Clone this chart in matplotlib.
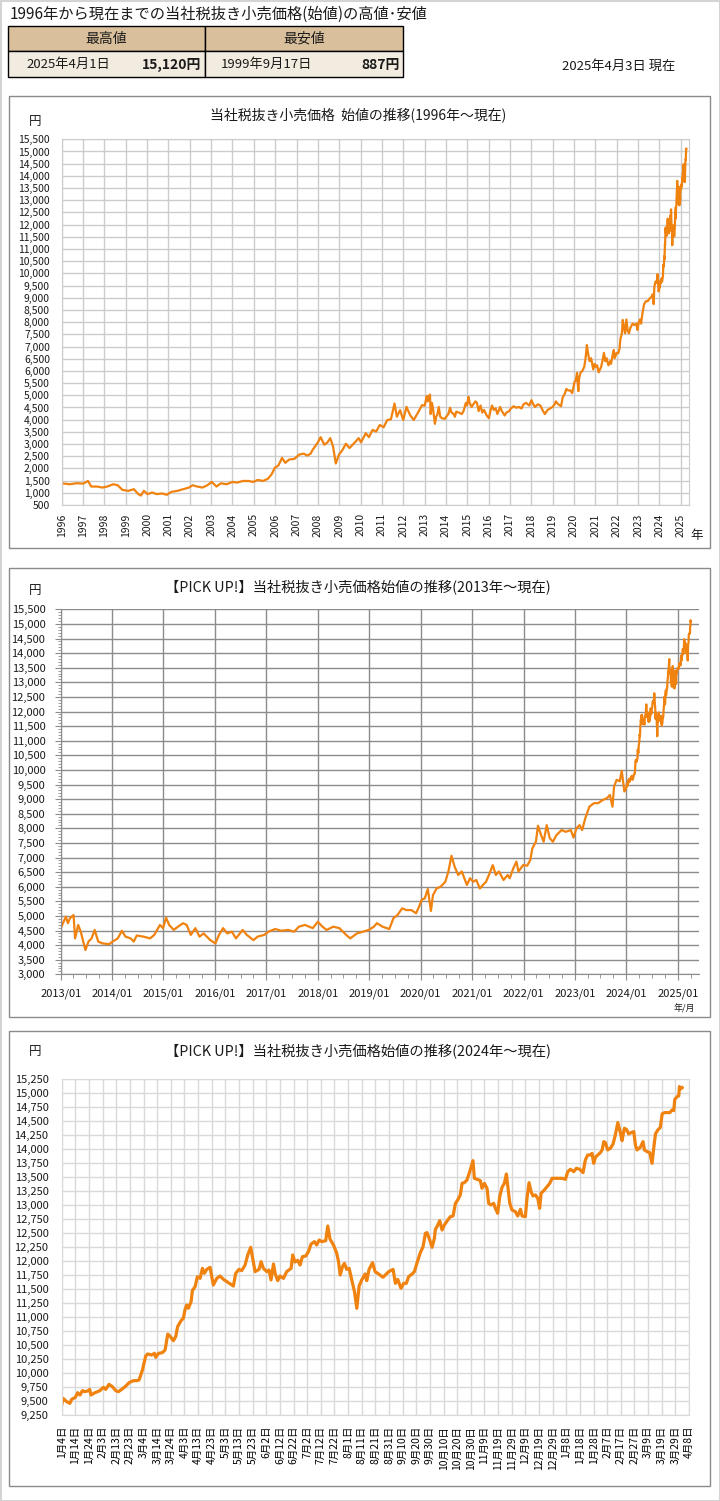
import pandas as pd
import matplotlib
matplotlib.use('Agg')
import matplotlib.pyplot as plt
import matplotlib.dates as mdates
from matplotlib.ticker import MultipleLocator
from matplotlib.patches import Rectangle

plt.rcParams['font.family'] = ['Noto Sans CJK JP', 'DejaVu Sans']

W, H = 720, 1501
ORANGE = '#F0820F'
TXT = '#1a1a1a'

# 価格データ
# 1996〜2012: 年（小数）
yrs_early = [1996.00, 1996.37, 1996.69, 1997.01, 1997.23, 1997.38, 1997.66, 1997.91, 1998.13, 1998.41,
             1998.62, 1998.84, 1999.12, 1999.38, 1999.59, 1999.71, 1999.85, 2000.02, 2000.24, 2000.45,
             2000.71, 2000.92, 2001.14, 2001.42, 2001.70, 2001.96, 2002.13, 2002.34, 2002.60, 2002.82,
             2003.03, 2003.25, 2003.46, 2003.72, 2004.00, 2004.22, 2004.49, 2004.75, 2004.97, 2005.18,
             2005.44, 2005.66, 2005.83, 2005.98, 2006.15, 2006.32, 2006.47, 2006.65, 2006.90, 2007.12,
             2007.33, 2007.51, 2007.66, 2007.76, 2007.98, 2008.13, 2008.30, 2008.45, 2008.58, 2008.71,
             2008.84, 2008.99, 2009.16, 2009.31, 2009.48, 2009.70, 2009.91, 2010.02, 2010.24, 2010.39,
             2010.56, 2010.73, 2010.90, 2011.08, 2011.25, 2011.42, 2011.59, 2011.70, 2011.85, 2012.00,
             2012.15, 2012.32, 2012.49, 2012.71, 2012.88]
px_early = [1392, 1351, 1392, 1378, 1486, 1257, 1257, 1216, 1257, 1351,
            1311, 1122, 1081, 1149, 946, 887, 1081, 946, 1013, 946,
            973, 919, 1040, 1081, 1149, 1216, 1311, 1257, 1216, 1311,
            1446, 1257, 1392, 1351, 1446, 1419, 1486, 1486, 1446, 1527,
            1486, 1581, 1756, 2027, 2121, 2432, 2229, 2364, 2391, 2567,
            2608, 2527, 2608, 2770, 3040, 3283, 2972, 3067, 3243, 2905,
            2202, 2567, 2770, 3013, 2837, 3040, 3243, 3067, 3445, 3283,
            3580, 3513, 3783, 3688, 3986, 4013, 4661, 4121, 4391, 3986,
            4526, 4188, 3986, 4323, 4594]

# 2013〜2023
yrs_mid = [2013.00, 2013.10, 2013.14, 2013.18, 2013.25, 2013.28, 2013.34, 2013.39, 2013.48, 2013.54,
           2013.60, 2013.66, 2013.73, 2013.81, 2013.94, 2014.01, 2014.11, 2014.19, 2014.26, 2014.36,
           2014.42, 2014.48, 2014.61, 2014.74, 2014.82, 2014.93, 2014.99, 2015.05, 2015.11, 2015.20,
           2015.28, 2015.38, 2015.45, 2015.53, 2015.62, 2015.70, 2015.78, 2015.91, 2016.01, 2016.08,
           2016.16, 2016.24, 2016.33, 2016.41, 2016.54, 2016.62, 2016.75, 2016.83, 2016.96, 2017.04,
           2017.17, 2017.29, 2017.42, 2017.54, 2017.63, 2017.75, 2017.90, 2018.00, 2018.09, 2018.17,
           2018.30, 2018.42, 2018.55, 2018.63, 2018.76, 2018.88, 2018.99, 2019.09, 2019.15, 2019.26,
           2019.39, 2019.47, 2019.55, 2019.64, 2019.72, 2019.82, 2019.91, 2019.97, 2020.02, 2020.08,
           2020.14, 2020.20, 2020.24, 2020.31, 2020.39, 2020.48, 2020.54, 2020.60, 2020.66, 2020.73,
           2020.80, 2020.85, 2020.90, 2020.96, 2021.02, 2021.08, 2021.15, 2021.21, 2021.27, 2021.34,
           2021.40, 2021.46, 2021.52, 2021.61, 2021.69, 2021.73, 2021.80, 2021.86, 2021.90, 2021.99,
           2022.07, 2022.13, 2022.17, 2022.24, 2022.28, 2022.34, 2022.39, 2022.45, 2022.51, 2022.57,
           2022.64, 2022.74, 2022.82, 2022.92, 2022.97, 2023.03, 2023.09, 2023.14, 2023.20, 2023.28,
           2023.37, 2023.45, 2023.54, 2023.62, 2023.68, 2023.73, 2023.76, 2023.81, 2023.87, 2023.91,
           2023.96]
px_mid = [4575, 4975, 4750, 4920, 5030, 4230, 4690, 4460, 3830, 4120,
          4230, 4520, 4120, 4060, 4030, 4120, 4230, 4490, 4290, 4230,
          4120, 4330, 4290, 4230, 4350, 4690, 4580, 4940, 4690, 4520,
          4630, 4750, 4690, 4350, 4580, 4290, 4400, 4170, 4060, 4350,
          4580, 4400, 4460, 4230, 4520, 4350, 4170, 4290, 4350, 4460,
          4550, 4490, 4520, 4460, 4630, 4690, 4580, 4800, 4630, 4520,
          4630, 4580, 4350, 4230, 4400, 4460, 4520, 4630, 4750, 4630,
          4550, 4920, 5030, 5260, 5200, 5200, 5090, 5320, 5550, 5600,
          5920, 5170, 5710, 5940, 6000, 6170, 6520, 7060, 6690, 6400,
          6520, 6290, 6060, 6290, 6170, 6230, 5940, 6060, 6170, 6460,
          6740, 6400, 6520, 6230, 6400, 6290, 6630, 6860, 6520, 6740,
          6720, 6910, 7310, 7540, 8090, 7770, 7540, 8110, 7660, 7540,
          7770, 7940, 7880, 7940, 7680, 8000, 8110, 7940, 8340, 8740,
          8860, 8860, 8970, 9030, 9140, 8740, 9430, 9660, 9610, 9970,
          9260]

# 2024/1/4 以降: 経過日数
days_2024 = [0, 1, 3.7, 6, 7.3, 10, 11.7, 13.4, 15.2, 17,
             19.6, 20.5, 21.5, 24.4, 28, 30.6, 32.3, 34.7, 37.2, 39.6,
             41.6, 44, 46.5, 49.4, 52.6, 55, 56.7, 59.2, 61.6, 63,
             66, 68, 69, 71, 73.8, 75.8, 77.8, 79.7, 81.9, 83.6,
             85, 87.5, 89.2, 90.5, 91.7, 92.9, 94.9, 95.8, 97.8, 99.5,
             101.5, 103.2, 104.6, 106.4, 108.8, 111.2, 113.7, 116.1, 118.6, 122.2,
             125.9, 127.6, 130, 132, 134.5, 136.4, 138.6, 140.6, 141.8, 144.7,
             146.2, 147.9, 150.4, 152, 153.5, 155.3, 156.5, 158.4, 160.1, 162.6,
             165, 168.2, 169.4, 171.1, 173.1, 174.8, 176.5, 179, 180.9, 182.9,
             185.3, 187, 188.8, 190.7, 193.6, 195.1, 196.8, 199.3, 201.7, 203,
             204.2, 205.9, 207.3, 209, 210.8, 212.7, 214.7, 216.4, 218.1, 220,
             222.5, 223.7, 225.4, 227.9, 229.8,
             232.4, 235.6, 237.3, 239.8, 243, 244.7, 246.4, 248.8, 250.8, 252.7,
             254.4, 256.9, 258.6, 260.6, 263, 265, 266.7, 267.9, 269.9, 271.6,
             273.3, 274, 275.2, 277.2, 278.9, 280.6, 283.1, 285, 287, 288.7,
             290.4, 292.3, 293.6, 295.3, 297.2, 299.2, 301.6, 302.6, 304.6, 307,
             308.2, 310, 311.9, 313.1, 314.8, 316.8, 318, 319.7, 321.2, 322.9,
             324.6, 326.1, 327.1, 328.5, 330.2, 332.7, 334.4, 336.4, 337.6, 340,
             341.2, 342.7, 344.2, 345.6, 347.4, 349.1, 350.5, 351.5, 353.5, 355.9,
             357.9, 359.6, 363.3, 366.9, 369.4, 371.1, 373, 375.5, 377.4, 379.9,
             382.3, 384, 385.7, 387.7, 388.9, 390.1, 391.4, 393.1, 395, 396.3,
             397.5, 398.7, 400.4, 402.4, 404.3, 406, 407.8, 409.7, 410.9, 412.6,
             414.1, 415.8, 417.5, 419.5, 420.7, 421.9, 424.3, 426.3, 427.3, 429.3,
             431.2, 432.9, 434.2, 435.4, 437.1, 439, 440.3, 442, 444, 445.9,
             447.6, 448.8, 449.6, 451.3, 452.5, 453, 454, 455]
px_2024 = [9423, 9542, 9483, 9453, 9525, 9560, 9644, 9602, 9680, 9662,
           9680, 9703, 9602, 9644, 9680, 9740, 9703, 9793, 9751, 9680,
           9662, 9703, 9751, 9823, 9859, 9859, 9870, 10049, 10300, 10336,
           10318, 10348, 10276, 10348, 10360, 10407, 10693, 10646, 10574, 10646,
           10825, 10932, 10974, 11135, 11212, 11153, 11272, 11469, 11540, 11719,
           11689, 11868, 11779, 11850, 11886, 11570, 11689, 11731, 11672, 11612,
           11552, 11779, 11850, 11827, 11928, 12107, 12244, 11970, 11809, 11850,
           11988, 11868, 11809, 11839, 11660, 11946, 11779, 11648, 11731, 11689,
           11809, 11868, 12107, 11982, 12012, 11928, 12077, 12089, 12167, 12304,
           12346, 12286, 12375, 12346, 12363, 12626, 12387, 12286, 12137, 11988,
           11749, 11898, 11958, 11850, 11868, 11660, 11451, 11153, 11552, 11660,
           11767, 11648, 11850, 11970, 11809,
           11767, 11708, 11749, 11809, 11850, 11600, 11672, 11511, 11600, 11600,
           11719, 11767, 11809, 11970, 12149, 12256, 12495, 12507, 12375, 12244,
           12405, 12566, 12614, 12721, 12554, 12643, 12733, 12793, 12805, 13031,
           13091, 13181, 13389, 13401, 13449, 13598, 13795, 13479, 13461, 13437,
           13300, 13389, 13300, 13031, 13002, 13031, 12942, 12853, 13151, 13318,
           13389, 13556, 13342, 13043, 12912, 12882, 12805, 12924, 12805, 12793,
           13121, 13401, 13240, 13163, 13181, 13121, 12942, 13211, 13258, 13330,
           13389, 13479, 13479, 13479, 13461, 13598, 13640, 13598, 13658, 13640,
           13580, 13807, 13896, 13896, 13926, 13747, 13854, 13896, 13938, 13986,
           14135, 14117, 13986, 14016, 14093, 14254, 14475, 14296, 14153, 14373,
           14355, 14272, 14296, 14314, 14075, 13986, 14033, 14135, 13986, 13956,
           13938, 13747, 14033, 14272, 14343, 14391, 14630, 14654, 14654, 14654,
           14702, 14690, 14892, 14940, 14952, 15120, 15080, 15100]

hi_date, hi_val = '2025年4月1日', 15120
lo_date, lo_val = '1999年9月17日', 887
as_of = '2025年4月3日 現在'


def dec2date(y):
    base = pd.Timestamp(int(y), 1, 1)
    return base + pd.Timedelta(days=(y - int(y)) * 365.25)


start_2024 = pd.Timestamp('2024-01-04')
dates = ([dec2date(y) for y in yrs_early + yrs_mid] +
         [start_2024 + pd.Timedelta(days=d) for d in days_2024])
values = px_early + px_mid + px_2024

fig = plt.figure(figsize=(7.2, 15.01), dpi=100)


def add_ax(l, t, r, b):
    return fig.add_axes([l / W, 1 - b / H, (r - l) / W, (b - t) / H])


def ftext(x, y, s, **kw):
    kw.setdefault('color', TXT)
    fig.text(x / W, 1 - y / H, s, **kw)


def frame(l, t, r, b, **kw):
    fig.add_artist(Rectangle((l / W, 1 - b / H), (r - l) / W, (b - t) / H,
                             transform=fig.transFigure, **kw))


# 外枠
frame(0.5, 0.5, 719.5, 1500.5, fill=False, ec='#d4d4d4', lw=1.5)

# ヘッダー
ftext(10, 14, '1996年から現在までの当社税抜き小売価格(始値)の高値･安値', fontsize=11, va='center')
frame(8, 26, 205, 51, fc='#D9BF9B', ec='black', lw=1)
frame(205, 26, 403, 51, fc='#D9BF9B', ec='black', lw=1)
frame(8, 51, 205, 77, fc='#F2EBE0', ec='black', lw=1)
frame(205, 51, 403, 77, fc='#F2EBE0', ec='black', lw=1)
ftext(106, 38.5, '最高値', ha='center', va='center', fontsize=10)
ftext(304, 38.5, '最安値', ha='center', va='center', fontsize=10)
ftext(26, 64.5, hi_date, va='center', fontsize=9.5)
ftext(201, 64.5, f'{hi_val:,}円', ha='right', va='center', fontsize=10, fontweight='bold')
ftext(221, 64.5, lo_date, va='center', fontsize=9.5)
ftext(400, 64.5, f'{lo_val:,}円', ha='right', va='center', fontsize=10, fontweight='bold')
ftext(675, 66, as_of, ha='right', va='center', fontsize=9.5)

# ---- チャート1: 1996年〜現在 ----
frame(9, 95.5, 710, 548, fill=False, ec='#8a8a8a', lw=1)
ftext(358, 115, '当社税抜き小売価格  始値の推移(1996年～現在)', ha='center', va='center', fontsize=10)
ftext(35, 121, '円', ha='center', va='center', fontsize=9)
ftext(697, 535, '年', ha='center', va='center', fontsize=9)

ax1 = add_ax(61.7, 139.3, 689.3, 505)
ax1.plot(dates, values, color=ORANGE, lw=1.6, solid_joinstyle='round')
ax1.set_xlim(pd.Timestamp('1996-01-01'), pd.Timestamp('2025-05-26'))
ax1.set_ylim(500, 15500)
ax1.set_yticks(range(500, 15501, 500))
ax1.set_yticklabels([f'{v:,}' for v in range(500, 15501, 500)])
yrs1 = list(range(1996, 2026))
ax1.set_xticks([pd.Timestamp(f'{y}-01-01') for y in yrs1])
ax1.set_xticklabels([str(y) for y in yrs1], rotation=90)
ax1.grid(True, color='#cccccc', lw=1)
ax1.set_axisbelow(True)
ax1.tick_params(axis='y', length=0, pad=8.5, labelsize=7.5, labelcolor=TXT)
ax1.tick_params(axis='x', length=0, pad=6, labelsize=7.5, labelcolor=TXT)
for s in ax1.spines.values():
    s.set_color('#cccccc')

# ---- チャート2: 2013年〜現在 ----
frame(8.5, 567.5, 710, 1017, fill=False, ec='#8a8a8a', lw=1)
ftext(358, 588, '【PICK UP!】当社税抜き小売価格始値の推移(2013年～現在)', ha='center', va='center', fontsize=10.3)
ftext(35, 591, '円', ha='center', va='center', fontsize=9)
ftext(684, 1009, '年/月', ha='center', va='center', fontsize=6.5)

ax2 = add_ax(60.7, 609.3, 698.6, 974.3)
ax2.plot(dates, values, color=ORANGE, lw=1.6, solid_joinstyle='round')
ax2.set_xlim(pd.Timestamp('2013-01-01'), pd.Timestamp('2025-05-28'))
ax2.set_ylim(3000, 15500)
ax2.set_yticks(range(3000, 15501, 500))
ax2.set_yticklabels([f'{v:,}' for v in range(3000, 15501, 500)])
ax2.yaxis.set_minor_locator(MultipleLocator(100))
ax2.xaxis.set_major_locator(mdates.YearLocator())
ax2.xaxis.set_major_formatter(mdates.DateFormatter('%Y/%m'))
ax2.xaxis.set_minor_locator(mdates.MonthLocator(bymonth=[4, 7, 10]))
ax2.grid(True, which='major', color='#8c8c8c', lw=1)
ax2.set_axisbelow(True)
ax2.tick_params(axis='y', which='major', length=4, color='#8c8c8c', pad=7, labelsize=8, labelcolor=TXT)
ax2.tick_params(axis='y', which='minor', length=2.5, color='#8c8c8c')
ax2.tick_params(axis='x', which='major', length=4, color='#8c8c8c', pad=6, labelsize=8, labelcolor=TXT)
ax2.tick_params(axis='x', which='minor', length=3, color='#8c8c8c')
ax2.spines['top'].set_visible(False)
ax2.spines['right'].set_visible(False)
ax2.spines['left'].set_color('#8c8c8c')
ax2.spines['bottom'].set_color('#8c8c8c')

# ---- チャート3: 2024年〜現在 ----
frame(8.5, 1031, 710, 1486, fill=False, ec='#8a8a8a', lw=1)
ftext(358, 1052, '【PICK UP!】当社税抜き小売価格始値の推移(2024年～現在)', ha='center', va='center', fontsize=10.3)
ftext(35, 1051, '円', ha='center', va='center', fontsize=9)

ax3 = add_ax(61.7, 1079.3, 689, 1414.7)
ax3.plot(dates, values, color=ORANGE, lw=2.3, solid_joinstyle='round')
ax3.set_xlim(start_2024, pd.Timestamp('2025-04-08'))
ax3.set_ylim(9250, 15250)
ax3.set_yticks(range(9250, 15251, 250))
ax3.set_yticklabels([f'{v:,}' for v in range(9250, 15251, 250)])
ticks3 = pd.date_range(start_2024, '2025-04-08', freq='10D')
ax3.set_xticks(ticks3)
ax3.set_xticklabels([f'{d.month}月{d.day}日' for d in ticks3], rotation=90)
ax3.grid(True, color='#d9d9d9', lw=1)
ax3.set_axisbelow(True)
ax3.tick_params(axis='y', length=0, pad=9.5, labelsize=8, labelcolor=TXT)
ax3.tick_params(axis='x', length=0, pad=8, labelsize=7.5, labelcolor='black')
for s in ax3.spines.values():
    s.set_color('#d9d9d9')

fig.savefig('out.png', dpi=100)
